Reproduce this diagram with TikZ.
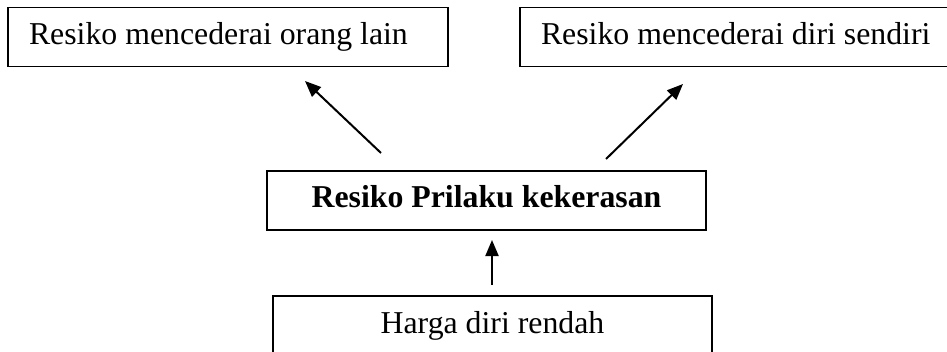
\documentclass[tikz,border=0pt]{standalone}
\usepackage{fontspec}
\setmainfont{Liberation Serif}
\usetikzlibrary{arrows.meta}
\newcommand{\lefttext}[2]{\makebox[#1][l]{#2}}
\begin{document}
\begin{tikzpicture}[x=1pt,y=1pt,
  box/.style={draw=black, line width=1.4pt, rectangle, inner sep=0pt, minimum height=59pt, font=\fontsize{31.8}{36}\selectfont, text height=21pt, text depth=6pt},
  leftbox/.style={box, inner xsep=21pt},
  arr/.style={line width=2pt, -{Triangle[length=16pt,width=13pt]}}]
\useasboundingbox (0,0) rectangle (947,351);
\clip (0,0) rectangle (947,351);
\node[leftbox] (orang) at (228,314) {\lefttext{398pt}{Resiko mencederai orang lain}};
\node[leftbox] (diri) at (735,314) {\lefttext{388pt}{Resiko mencederai diri sendiri}};
\node[box, minimum width=439pt, font=\fontsize{31.8}{36}\selectfont\bfseries] (pk) at (486.5,150.5) {Resiko Prilaku kekerasan};
\node[box, minimum width=439pt] (hdr) at (492.5,25.5) {Harga diri rendah};
\coordinate (l1) at (381,198);
\coordinate (l2) at (305,270);
\coordinate (r1) at (606,192);
\coordinate (r2) at (683,267);
\coordinate (b1) at (492,66);
\coordinate (b2) at (492,111);
\draw[arr] (l1) -- (l2);
\draw[arr] (r1) -- (r2);
\draw[arr] (b1) -- (b2);
\end{tikzpicture}
\end{document}
